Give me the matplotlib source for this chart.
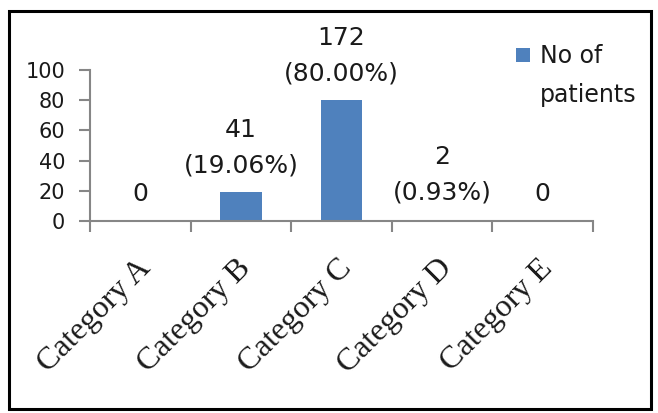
import matplotlib
matplotlib.use("Agg")
import matplotlib.pyplot as plt
from matplotlib.patches import Rectangle
from matplotlib.transforms import ScaledTranslation

categories = ["Category A", "Category B", "Category C", "Category D", "Category E"]
patients = [0, 41, 172, 2, 0]
percent = [0.0, 19.06, 80.00, 0.93, 0.0]
series_name = "No of\npatients"
yticks = [0, 20, 40, 60, 80, 100]

BAR = "#4F81BD"
AXIS = "#868686"
INK = "#1a1a1a"

fig = plt.figure(figsize=(6.58, 4.13), dpi=100)
ax = fig.add_axes([90 / 658, 1 - 221 / 413, (593 - 90) / 658, (221 - 70) / 413])

x = list(range(len(categories)))
ax.bar(x, percent, width=0.41, color=BAR, zorder=2)

ax.set_xlim(-0.5, len(categories) - 0.5)
ax.set_ylim(0, 100)

for side in ("top", "right"):
    ax.spines[side].set_visible(False)
for side in ("left", "bottom"):
    ax.spines[side].set_color(AXIS)
    ax.spines[side].set_linewidth(1.5)

ax.set_yticks(yticks)
ax.set_yticklabels([str(v) for v in yticks], fontsize=15, family="DejaVu Sans", color=INK)
ax.tick_params(axis="y", length=8, width=1.5, color=AXIS, pad=10)

# category boundaries carry the tick marks, centres carry the labels
ax.set_xticks([i + 0.5 for i in [-1] + x], minor=True)
ax.tick_params(axis="x", which="minor", length=8, width=1.5, color=AXIS)
ax.set_xticks(x)
ax.set_xticklabels(categories, fontsize=23, family="Liberation Serif", color=INK,
                   rotation=45, ha="right", va="center", rotation_mode="anchor")
ax.tick_params(axis="x", which="major", length=0, pad=31)
shift = ScaledTranslation(6 / 100, 0, fig.dpi_scale_trans)
for lab in ax.get_xticklabels():
    lab.set_transform(lab.get_transform() + shift)

for xi, n, p in zip(x, patients, percent):
    txt = f"{n}\n({p:.2f}%)" if n else f"{n}"
    ax.annotate(txt, (xi, p), xytext=(0, 15), textcoords="offset pixels",
                ha="center", va="bottom", fontsize=18, family="DejaVu Sans",
                color=INK, linespacing=1.6)

# legend: swatch beside the first line of a two-line series name
fig.patches.append(Rectangle((516 / 658, 1 - 62 / 413), 14 / 658, 14 / 413,
                             transform=fig.transFigure, facecolor=BAR,
                             edgecolor="none"))
fig.text(540 / 658, 1 - 44 / 413, series_name, fontsize=17, family="DejaVu Sans",
         color=INK, ha="left", va="top", linespacing=1.8)

fig.patches.append(Rectangle((9 / 658, 1 - 409 / 413), 642 / 658, 398 / 413,
                             transform=fig.transFigure, fill=False,
                             edgecolor="black", linewidth=2.2))

fig.savefig("out.png", dpi=100)
